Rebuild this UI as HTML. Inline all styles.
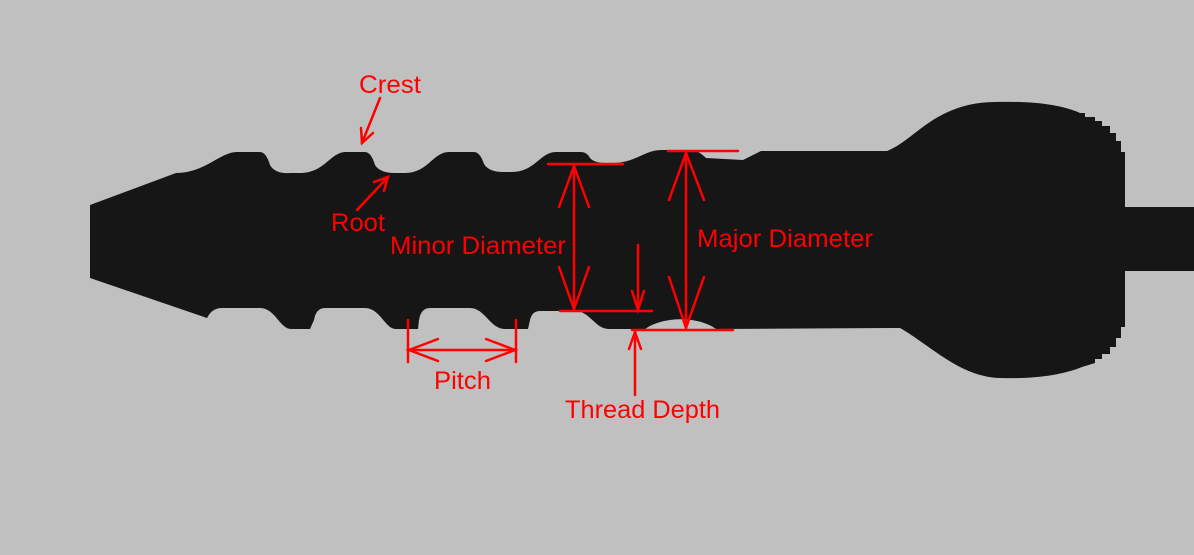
<!DOCTYPE html>
<html><head><meta charset="utf-8"><style>
html,body{margin:0;padding:0;background:#c0c0c0;}
svg{display:block;}
text{font-family:"Liberation Sans",Arial,sans-serif;font-size:25px;fill:#ff0000;}
</style></head><body>
<svg width="1194" height="555" viewBox="0 0 1194 555" xmlns="http://www.w3.org/2000/svg">
<rect width="1194" height="555" fill="#c0c0c0"/>
<path fill="#161616" d="
M 90 205 L 176 173
C 205 173 220 152 237 152 L 260 152 Q 266 152 270 165 Q 275 174 290 173 L 300 173
C 325 173 330 152 346 152 L 365 152 Q 371 152 375 165 Q 380 173 395 173 L 405 173
C 428 173 433 152 449 152 L 474 152 Q 480 152 484 164 Q 489 172 503 172 L 512 172
C 535 172 540 152 556 152 L 581 152 Q 587 152 590 158 Q 594 163 606 163 L 612 163
C 635 163 645 150 661 150 L 690 150 Q 698 150 706 158 L 743 160 L 761 151 L 887 151
C 915 140 935 103 994 102 C 1030 101 1060 104 1080 113
L 1085 113 L 1085 117 L 1095 117 L 1095 121 L 1102 121 L 1102 126 L 1110 126 L 1110 133 L 1116 133 L 1116 141 L 1121 141 L 1121 152 L 1125 152
L 1125 207 L 1194 207 L 1194 271 L 1125 271 L 1125 327
L 1121 327 L 1121 338 L 1116 338 L 1116 347 L 1110 347 L 1110 354 L 1102 354 L 1102 359 L 1095 359 L 1095 363 L 1082 367
C 1060 376 1030 379 1000 378 C 960 377 930 345 900 328 L 716 329
C 700 317 665 315 645 329 L 609 329
C 595 329 590 311 575 311 L 540 311 Q 532 311 530 320 L 528 329 L 505 329
C 490 329 485 308 470 308 L 430 308 Q 421 308 419 320 L 418 329 L 396 329
C 385 329 380 308 365 308 L 325 308 Q 316 308 314 320 L 310 329 L 291 329
C 280 329 275 308 260 308 L 222 308 Q 212 308 207 318 L 90 278 Z"/>
<g stroke="#ff0000" stroke-width="2.5" fill="none" stroke-linecap="round">
<line x1="380" y1="98" x2="362" y2="143"/>
<polyline points="361,128 362,143 373,133"/>
<line x1="357" y1="210" x2="388" y2="177"/>
<polyline points="374,182 388,177 384,191"/>
<line x1="548" y1="164" x2="623" y2="164"/>
<line x1="560" y1="311" x2="652" y2="311"/>
<line x1="574" y1="166" x2="574" y2="309"/>
<polyline points="559,207 574,166 589,207"/>
<polyline points="559,267 574,309 589,267"/>
<line x1="668" y1="151" x2="738" y2="151"/>
<line x1="632" y1="330" x2="733" y2="330"/>
<line x1="686" y1="153" x2="686" y2="328"/>
<polyline points="669,200 686,153 704,200"/>
<polyline points="669,277 686,328 704,277"/>
<line x1="638" y1="245" x2="638" y2="310"/>
<polyline points="632,291 638,310 644,291"/>
<line x1="635" y1="395" x2="635" y2="332"/>
<polyline points="629,349 635,332 641,349"/>
<line x1="408" y1="320" x2="408" y2="362"/>
<line x1="516" y1="320" x2="516" y2="362"/>
<line x1="409" y1="350" x2="515" y2="350"/>
<polyline points="438,339 409,350 438,361"/>
<polyline points="486,339 515,350 486,361"/>
</g>
<text x="359" y="93" textLength="62" lengthAdjust="spacingAndGlyphs">Crest</text>
<text x="331" y="231" textLength="54" lengthAdjust="spacingAndGlyphs">Root</text>
<text x="390" y="254" textLength="176" lengthAdjust="spacingAndGlyphs">Minor Diameter</text>
<text x="697" y="247" textLength="176" lengthAdjust="spacingAndGlyphs">Major Diameter</text>
<text x="434" y="389" textLength="57" lengthAdjust="spacingAndGlyphs">Pitch</text>
<text x="565" y="418" textLength="155" lengthAdjust="spacingAndGlyphs">Thread Depth</text>
</svg>
</body></html>
